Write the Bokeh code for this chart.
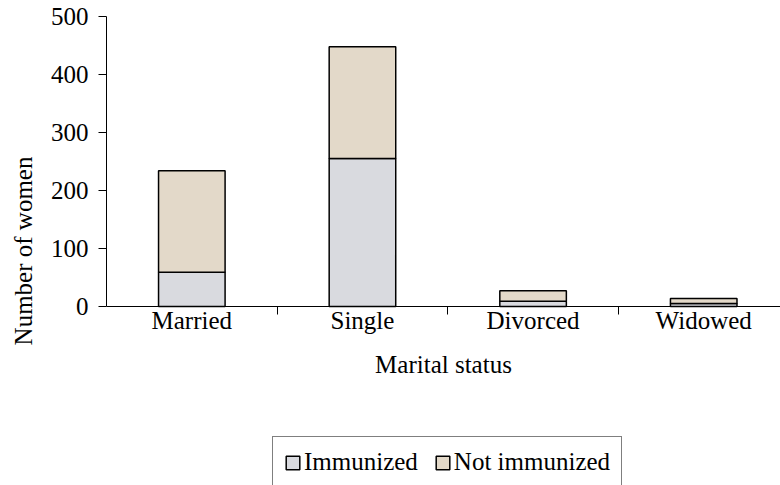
from bokeh.plotting import figure
from bokeh.models import ColumnDataSource, FixedTicker, Range1d, Legend, LegendItem
from bokeh.embed import file_html
from bokeh.resources import INLINE

categories = ["Married", "Single", "Divorced", "Widowed"]
immunized = [59, 255, 9, 5]
not_immunized = [175, 193, 18, 9]
y_ticks = [0, 100, 200, 300, 400, 500]

xs = [i + 0.5 for i in range(len(categories))]
src = ColumnDataSource(dict(x=xs, immunized=immunized, not_immunized=not_immunized))

FONT = "Liberation Serif"
FS = "25px"

W, H = 780, 485
LEFT, TOP, ZERO_Y = 106, 16, 306
y_start = -500 * (H - ZERO_Y) / (ZERO_Y - TOP)

p = figure(width=W, height=H, output_backend="svg", toolbar_location=None,
           x_range=Range1d(0, 3.95), y_range=Range1d(y_start, 500),
           min_border_left=LEFT, min_border_right=0, min_border_top=TOP, min_border_bottom=0)
p.outline_line_color = None
p.grid.visible = False
p.background_fill_color = "white"

r = p.vbar_stack(["immunized", "not_immunized"], x="x", width=0.39, source=src,
                 fill_color=["#d9dadf", "#e3d9c9"], line_color="black", line_width=1.5)

# x axis
xa = p.xaxis[0]
xa.fixed_location = 0
xa.ticker = FixedTicker(ticks=xs, minor_ticks=[1, 2, 3])
xa.major_label_overrides = {x: c for x, c in zip(xs, categories)}
xa.major_tick_out = 0
xa.major_tick_in = 0
xa.minor_tick_out = 8
xa.minor_tick_in = 0
xa.minor_tick_line_color = "black"
xa.axis_line_color = "black"
xa.major_label_text_font = FONT
xa.major_label_text_font_size = FS
xa.major_label_text_color = "black"
xa.major_label_standoff = -8
xa.axis_label = "Marital status"
xa.axis_label_text_font = FONT
xa.axis_label_text_font_size = FS
xa.axis_label_text_font_style = "normal"
xa.axis_label_text_color = "black"
xa.axis_label_standoff = 14

ya = p.yaxis[0]
ya.bounds = (0, 500)
ya.ticker = FixedTicker(ticks=y_ticks)
ya.major_tick_out = 8
ya.major_tick_in = 0
ya.minor_tick_out = 0
ya.minor_tick_in = 0
ya.axis_line_color = "black"
ya.major_tick_line_color = "black"
ya.major_label_text_font = FONT
ya.major_label_text_font_size = FS
ya.major_label_text_color = "black"
ya.major_label_standoff = 10
ya.axis_label = "Number of women"
ya.axis_label_text_font = FONT
ya.axis_label_text_font_size = FS
ya.axis_label_text_font_style = "normal"
ya.axis_label_text_color = "black"
ya.axis_label_standoff = 11

legend = Legend(items=[LegendItem(label="Immunized", renderers=[r[0]]),
                       LegendItem(label="Not immunized", renderers=[r[1]])],
                orientation="horizontal", location=(166, -3),
                label_text_font=FONT, label_text_font_size=FS,
                label_text_color="black",
                glyph_width=17, glyph_height=17, spacing=16, label_standoff=3,
                padding=11, margin=0,
                border_line_color="black", border_line_width=1,
                background_fill_color="white", background_fill_alpha=1.0)
p.add_layout(legend, "center")

open("out.html", "w").write(file_html(p, INLINE))
